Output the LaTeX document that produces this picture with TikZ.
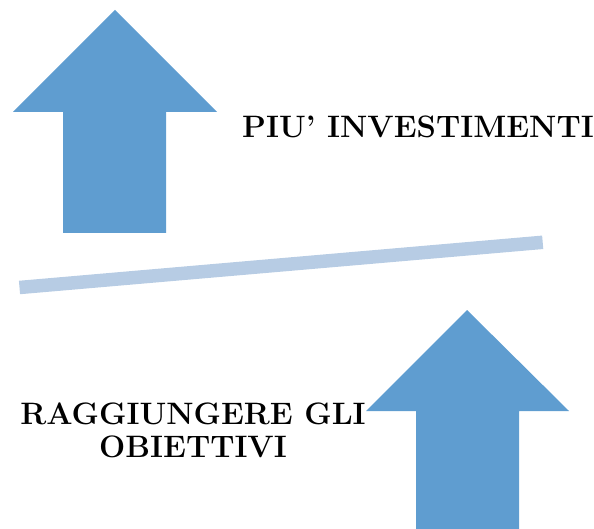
\documentclass[tikz,border=0pt]{standalone}
\usepackage{tikz}
\usepackage{xcolor}
\definecolor{arrowblue}{HTML}{5F9DD0}
\definecolor{barblue}{HTML}{B7CCE4}

\begin{document}
\begin{tikzpicture}[
    x=1pt, y=-1pt,
    uparrow/.style={fill=arrowblue, draw=none},
    tiltbar/.style={draw=barblue, line width=13.5pt},
    caption/.style={inner sep=0pt, align=center, font=\fontsize{31}{33}\selectfont\bfseries}
]
    \useasboundingbox (0,0) rectangle (594,529);
    \fill[uparrow] (115,10) -- (217,112) -- (166,112) -- (166,233) -- (63,233) -- (63,112) -- (13,112) -- cycle;
    \fill[uparrow] (467,310) -- (569,411) -- (519,411) -- (519,529) -- (416,529) -- (416,411) -- (366,411) -- cycle;
    \coordinate (barL) at (19.5,287.5);
    \coordinate (barR) at (542.7,242.3);
    \draw[tiltbar] (barL) -- (barR);
    \node[caption, anchor=base west] (piu) at (242,138) {PIU’ INVESTIMENTI};
    \node[caption, anchor=north] (obiettivi) at (193,403) {RAGGIUNGERE GLI\\OBIETTIVI};
\end{tikzpicture}
\end{document}
